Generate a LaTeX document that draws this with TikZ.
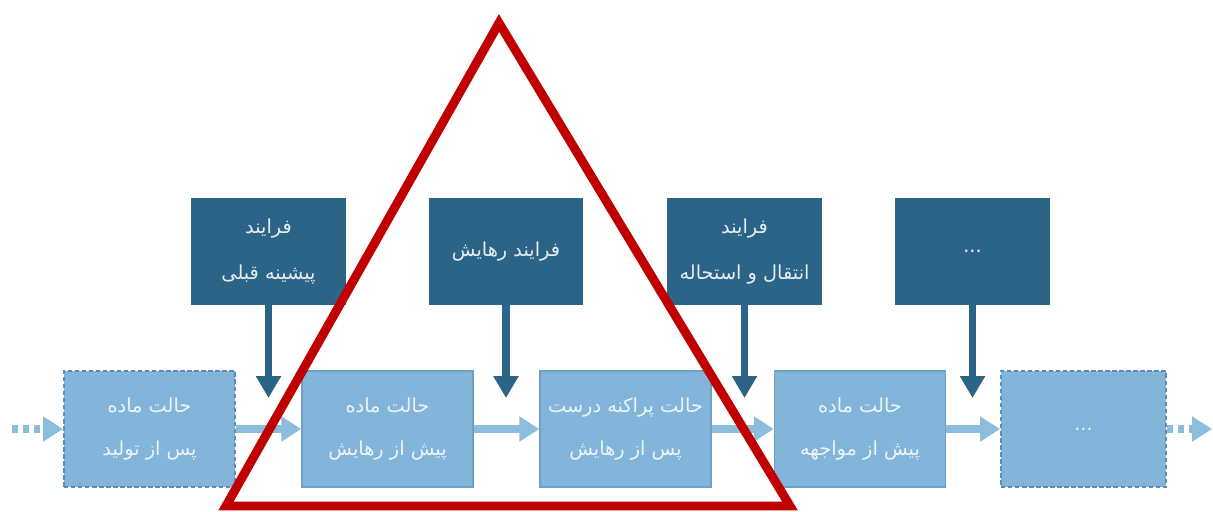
\documentclass[tikz,border=0pt]{standalone}
\usepackage{fontspec}
\usepackage{xcolor}
\usetikzlibrary{arrows.meta}
\newfontfamily\farsi[Script=Arabic]{DejaVu Sans}
\TeXXeTstate=1

\definecolor{procblue}{HTML}{2C6488}
\definecolor{stateblue}{HTML}{82B5D9}
\definecolor{stateedge}{HTML}{6E9FC4}
\definecolor{flowblue}{HTML}{8DBDDD}
\definecolor{dashedge}{HTML}{5C8CB2}
\definecolor{tribred}{HTML}{C00000}

\tikzset{
  procbox/.style={fill=procblue, inner sep=0pt, minimum width=3.1cm, minimum height=2.14cm,
    text=white!88!procblue, align=center, font=\farsi\fontsize{11}{26}\selectfont},
  statebox/.style={fill=stateblue, draw=stateedge, line width=0.8pt, inner sep=0pt,
    minimum width=3.42cm, minimum height=2.32cm,
    text=white!85!stateblue, align=center, font=\farsi\fontsize{11}{25}\selectfont},
  openbox/.style={statebox, draw=dashedge, dash pattern=on 2.5pt off 1.5pt, line width=1.1pt},
  downarrow/.style={draw=procblue, line width=4.4pt, -{Triangle[width=0.48cm, length=0.44cm]}},
  flowarrow/.style={draw=flowblue, line width=4pt, -{Triangle[width=0.48cm, length=0.4cm]}},
  dotarrow/.style={flowarrow, dash pattern=on 3.4pt off 2.8pt},
  redtri/.style={draw=tribred, line width=5.1pt, line join=miter}
}

\begin{document}
\begin{tikzpicture}[x=0.02cm, y=-0.02cm]
  \useasboundingbox (0,0) rectangle (1213,511);

  % states
  \node[openbox]  (s1) at (149.5,429) {\beginR حالت ماده\endR\\\beginR پس از تولید\endR};
  \node[statebox] (s2) at (387.5,429) {\beginR حالت ماده\endR\\\beginR پیش از رهایش\endR};
  \node[statebox] (s3) at (625.5,429) {\beginR حالت پراکنه درست\endR\\\beginR پس از رهایش\endR};
  \node[statebox] (s4) at (860,429)   {\beginR حالت ماده\endR\\\beginR پیش از مواجهه\endR};
  \node[openbox, minimum width=3.3cm] (s5) at (1083.5,429) {...};

  % processes
  \node[procbox] (p1) at (268.5,251.5) {\beginR فرایند\endR\\\beginR پیشینه قبلی\endR};
  \node[procbox] (p2) at (506,251.5)   {\beginR فرایند رهایش\endR};
  \node[procbox] (p3) at (744.5,251.5) {\beginR فرایند\endR\\\beginR انتقال و استحاله\endR};
  \node[procbox] (p4) at (972.5,251.5) {...};

  \coordinate (d1) at (268.5,398);
  \coordinate (d2) at (506,398);
  \coordinate (d3) at (744.5,398);
  \coordinate (d4) at (972.5,398);
  \coordinate (in)  at (12,429);
  \coordinate (out) at (1212,429);

  \draw[downarrow] (p1) -- (d1);
  \draw[downarrow] (p2) -- (d2);
  \draw[downarrow] (p3) -- (d3);
  \draw[downarrow] (p4) -- (d4);

  \draw[dotarrow]  (in) -- (s1);
  \draw[flowarrow] (s1) -- (s2);
  \draw[flowarrow] (s2) -- (s3);
  \draw[flowarrow] (s3) -- (s4);
  \draw[flowarrow] (s4) -- (s5);
  \draw[dotarrow]  (s5) -- (out);

  % highlight
  \draw[redtri] (499,23) -- (226,506) -- (790,506) -- cycle;
\end{tikzpicture}
\end{document}
